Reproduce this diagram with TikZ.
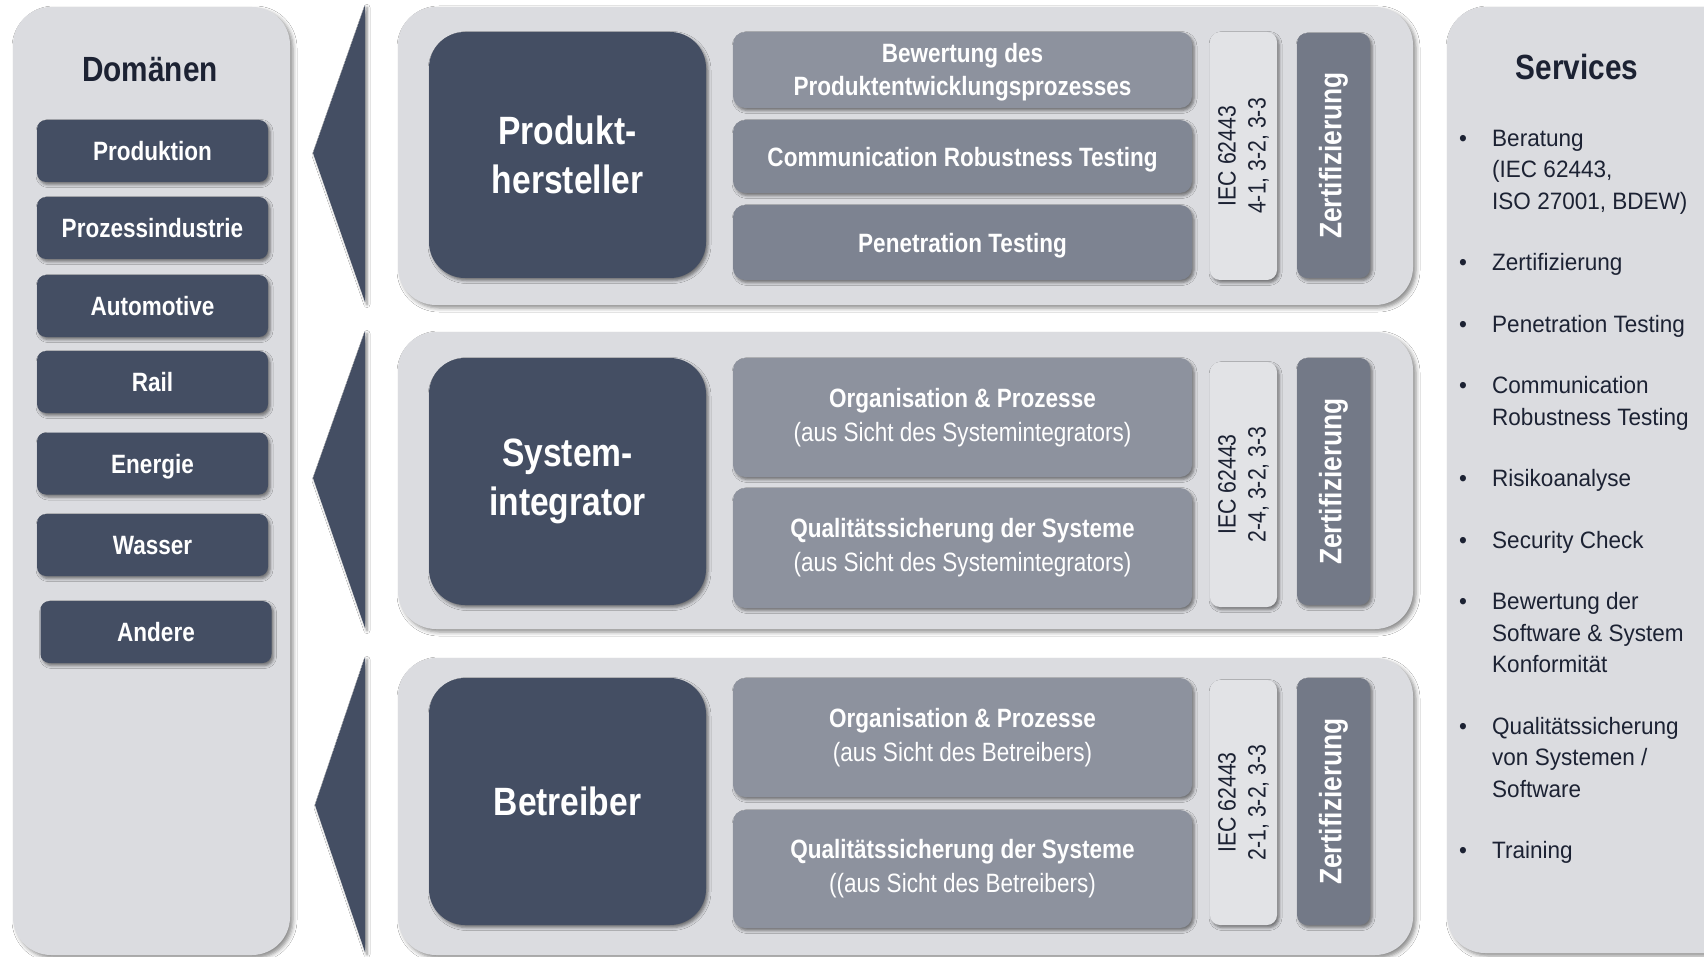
\documentclass[tikz,border=0pt]{standalone}
\usepackage{fontspec}
\setmainfont{Liberation Sans}
\newfontfamily\nf{Liberation Sans}[FakeStretch=0.85]
\newfontfamily\svf{Liberation Sans}[FakeStretch=0.95]
\usetikzlibrary{shadows.blur}
\definecolor{panel}{HTML}{DBDCE0}
\definecolor{navy}{HTML}{444E63}
\definecolor{zert}{HTML}{737987}
\definecolor{iec}{HTML}{E2E3E6}
\definecolor{subA}{HTML}{8D929E}
\definecolor{subB}{HTML}{818794}
\definecolor{subC}{HTML}{7D8391}
\definecolor{txtdark}{HTML}{1C2233}
\tikzset{
  bigshadow/.style={blur shadow={shadow xshift=3pt, shadow yshift=-3pt, shadow blur radius=4pt, shadow opacity=45}},
  smallshadow/.style={blur shadow={shadow xshift=2pt, shadow yshift=-2.5pt, shadow blur radius=3pt, shadow opacity=50}},
  panelbox/.style={draw=none, fill=panel, rounded corners=38pt, inner sep=0pt, bigshadow},
  domainbox/.style={draw=none, fill=navy, rounded corners=9pt, inner sep=0pt, smallshadow,
    minimum width=231pt, minimum height=62pt, text=white, text height=19.5pt, text depth=0pt,
    font=\nf\bfseries\fontsize{26.5}{32}\selectfont},
  rolebox/.style={draw=none, fill=navy, rounded corners=36pt, inner sep=0pt, smallshadow,
    minimum width=277pt, text=white, align=center,
    font=\nf\bfseries\fontsize{39.5}{49}\selectfont},
  subbox/.style={draw=none, rounded corners=12pt, inner sep=0pt, smallshadow,
    minimum width=459pt, text=white, align=center,
    font=\nf\fontsize{26.5}{34}\selectfont},
  iecbox/.style={draw=none, fill=iec, rounded corners=10pt, inner sep=0pt, smallshadow, minimum width=67pt},
  zertbox/.style={draw=none, fill=zert, rounded corners=10pt, inner sep=0pt, smallshadow, minimum width=73pt},
  zerttext/.style={rotate=90, text=white, inner sep=0pt, font=\nf\bfseries\fontsize{31}{34}\selectfont},
  iectext/.style={rotate=90, text=txtdark, inner sep=0pt, align=center, font=\nf\fontsize{25}{30}\selectfont},
  titletext/.style={text=txtdark, inner sep=0pt, font=\nf\bfseries\fontsize{35}{40}\selectfont},
  tri/.style={fill=navy, draw=none, smallshadow},
  svitem/.style={anchor=north west, inner sep=0pt, align=left, text=txtdark, font=\svf\fontsize{23.7}{31.5}\selectfont},
}
\begin{document}
\begin{tikzpicture}[x=1pt,y=-1pt]
\useasboundingbox (0,0) rectangle (1704,957);
\fill[white] (0,0) rectangle (1704,957);

% ---------- panels
\node[panelbox, minimum width=277pt, minimum height=948pt] (dom) at (151.5,481) {};
\node[panelbox, minimum width=313pt, minimum height=946pt] (srv) at (1603.5,480) {};
\node[panelbox, minimum width=1015pt, minimum height=298pt] (row1) at (905.5,156) {};
\node[panelbox, minimum width=1015pt, minimum height=297pt] (row2) at (905.5,480.5) {};
\node[panelbox, minimum width=1015pt, minimum height=297pt] (row3) at (905.5,806.5) {};

% ---------- Domaenen
\node[titletext, anchor=base] (domt) at (150,82) {Domänen};
\node[domainbox] (d1) at (152.5,151) {Produktion};
\node[domainbox] (d2) at (152.5,228) {Prozessindustrie};
\node[domainbox] (d3) at (152.5,306) {Automotive};
\node[domainbox] (d4) at (152.5,382) {Rail};
\node[domainbox] (d5) at (152.5,463.5) {Energie};
\node[domainbox] (d6) at (152.5,545) {Wasser};
\node[domainbox] (d7) at (156,632) {Andere};

% ---------- triangles
\coordinate (t1a) at (365,5);   \coordinate (t1b) at (313,153); \coordinate (t1c) at (365,302);
\coordinate (t2a) at (365,331); \coordinate (t2b) at (313,478); \coordinate (t2c) at (365,628);
\coordinate (t3a) at (365,657); \coordinate (t3b) at (315,805); \coordinate (t3c) at (365,952);
\fill[tri] (t1a) -- (t1b) -- (t1c) -- cycle;
\fill[tri] (t2a) -- (t2b) -- (t2c) -- cycle;
\fill[tri] (t3a) -- (t3b) -- (t3c) -- cycle;

% ---------- row 1
\node[rolebox, minimum height=246pt] (r1) at (567.5,155) {Produkt-\\hersteller};
\node[subbox, fill=subA, minimum height=76pt, font=\nf\bfseries\fontsize{26.5}{33}\selectfont] (s1a) at (962.5,70) {\rule{0pt}{24pt}Bewertung des\\Produktentwicklungsprozesses};
\node[subbox, fill=subB, minimum height=73pt, text depth=0pt, font=\nf\bfseries\fontsize{26.5}{33}\selectfont] (s1b) at (962.5,156.5) {Communication Robustness Testing};
\node[subbox, fill=subC, minimum height=75pt, text depth=0pt, font=\nf\bfseries\fontsize{26.5}{33}\selectfont] (s1c) at (962.5,242.5) {Penetration Testing};
\node[iecbox, minimum height=248pt] (i1) at (1243.5,156) {};
\node[iectext] (i1t) at (i1.center) {IEC 62443\\4-1, 3-2, 3-3};
\node[zertbox, minimum height=245pt] (z1) at (1333.5,155.5) {};
\node[zerttext] (z1t) at (z1.center) {Zertifizierung};

% ---------- row 2
\node[rolebox, minimum height=247pt] (r2) at (567.5,481.5) {System-\\integrator};
\node[subbox, fill=subA, minimum height=119pt] (s2a) at (962.5,417.5) {\bfseries Organisation \& Prozesse\\(aus Sicht des Systemintegrators)};
\node[subbox, fill=subA, minimum height=120pt] (s2b) at (962.5,548) {\bfseries Qualitätssicherung der Systeme\\(aus Sicht des Systemintegrators)};
\node[iecbox, minimum height=245pt] (i2) at (1243.5,484.5) {};
\node[iectext] (i2t) at (i2.center) {IEC 62443\\2-4, 3-2, 3-3};
\node[zertbox, minimum height=247pt] (z2) at (1333.5,481.5) {};
\node[zerttext] (z2t) at (z2.center) {Zertifizierung};

% ---------- row 3
\node[rolebox, minimum height=247pt, text depth=0pt] (r3) at (567.5,801.5) {Betreiber};
\node[subbox, fill=subA, minimum height=119pt] (s3a) at (962.5,737.5) {\bfseries Organisation \& Prozesse\\(aus Sicht des Betreibers)};
\node[subbox, fill=subA, minimum height=118pt] (s3b) at (962.5,869) {\bfseries Qualitätssicherung der Systeme\\((aus Sicht des Betreibers)};
\node[iecbox, minimum height=245pt] (i3) at (1243.5,802.5) {};
\node[iectext] (i3t) at (i3.center) {IEC 62443\\2-1, 3-2, 3-3};
\node[zertbox, minimum height=247pt] (z3) at (1333.5,801.5) {};
\node[zerttext] (z3t) at (z3.center) {Zertifizierung};

% ---------- Services
\node[titletext, anchor=base] (srvt) at (1577,80) {Services};
\foreach \n/\y in {1/124, 2/248.5, 3/310, 4/371.5, 5/464.5, 6/526, 7/587.5, 8/712, 9/836.5}{
  \node[svitem] (b\n) at (1459,\y) {\strut•};
}
\node[svitem] (v1) at (1492,124) {\strut Beratung\\(IEC 62443,\\ISO 27001, BDEW)};
\node[svitem] (v2) at (1492,248.5) {\strut Zertifizierung};
\node[svitem] (v3) at (1492,310) {\strut Penetration Testing};
\node[svitem] (v4) at (1492,371.5) {\strut Communication\\Robustness Testing};
\node[svitem] (v5) at (1492,464.5) {\strut Risikoanalyse};
\node[svitem] (v6) at (1492,526) {\strut Security Check};
\node[svitem] (v7) at (1492,587.5) {\strut Bewertung der\\Software \& System\\Konformität};
\node[svitem] (v8) at (1492,712) {\strut Qualitätssicherung\\von Systemen /\\Software};
\node[svitem] (v9) at (1492,836.5) {\strut Training};
\end{tikzpicture}
\end{document}
